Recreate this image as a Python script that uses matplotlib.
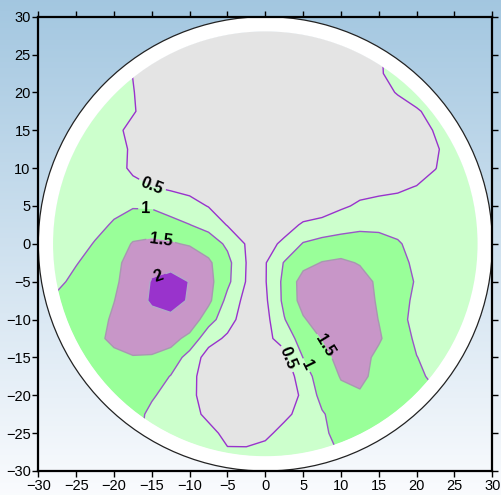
import numpy as np
import matplotlib
matplotlib.use('Agg')
import matplotlib.pyplot as plt
from matplotlib.patches import Circle, Wedge

# grid nodes (2.5 spacing), rows run from top (y=30) to bottom (y=-30)
x_nodes = np.linspace(-30, 30, 25)
y_nodes = np.linspace(30, -30, 25)

field = [
    [0.75, 0.75, 0.75, 0.75, 0.70, 0.45, 0.25, 0.25, 0.25, 0.25, 0.25, 0.25, 0.25, 0.25, 0.25, 0.25, 0.25, 0.25, 0.45, 0.70, 0.75, 0.75, 0.75, 0.75, 0.75],  # 30
    [0.75, 0.75, 0.75, 0.75, 0.70, 0.45, 0.25, 0.25, 0.25, 0.25, 0.25, 0.25, 0.25, 0.25, 0.25, 0.25, 0.25, 0.25, 0.45, 0.70, 0.75, 0.75, 0.75, 0.75, 0.75],  # 27.5
    [0.75, 0.75, 0.75, 0.75, 0.70, 0.45, 0.25, 0.25, 0.25, 0.25, 0.25, 0.25, 0.25, 0.25, 0.25, 0.25, 0.25, 0.25, 0.45, 0.70, 0.75, 0.75, 0.75, 0.75, 0.75],  # 25
    [0.75, 0.75, 0.75, 0.75, 0.74, 0.49, 0.25, 0.25, 0.25, 0.25, 0.25, 0.25, 0.25, 0.25, 0.25, 0.25, 0.25, 0.25, 0.44, 0.69, 0.75, 0.75, 0.75, 0.75, 0.75],  # 22.5
    [0.75, 0.75, 0.75, 0.75, 0.75, 0.52, 0.27, 0.25, 0.25, 0.25, 0.25, 0.25, 0.25, 0.25, 0.25, 0.25, 0.25, 0.25, 0.29, 0.54, 0.75, 0.75, 0.75, 0.75, 0.75],  # 20
    [0.75, 0.75, 0.75, 0.75, 0.75, 0.54, 0.29, 0.25, 0.25, 0.25, 0.25, 0.25, 0.25, 0.25, 0.25, 0.25, 0.25, 0.25, 0.25, 0.25, 0.44, 0.69, 0.75, 0.75, 0.75],  # 17.5
    [0.75, 0.75, 0.75, 0.75, 0.62, 0.37, 0.25, 0.25, 0.25, 0.25, 0.25, 0.25, 0.25, 0.25, 0.25, 0.25, 0.25, 0.25, 0.25, 0.25, 0.29, 0.54, 0.75, 0.75, 0.75],  # 15
    [0.75, 0.75, 0.75, 0.75, 0.68, 0.43, 0.25, 0.25, 0.25, 0.25, 0.25, 0.25, 0.25, 0.25, 0.25, 0.25, 0.25, 0.25, 0.25, 0.25, 0.25, 0.45, 0.70, 0.75, 0.75],  # 12.5
    [0.75, 0.75, 0.75, 0.75, 0.67, 0.42, 0.25, 0.25, 0.25, 0.25, 0.25, 0.25, 0.25, 0.25, 0.25, 0.25, 0.25, 0.25, 0.25, 0.25, 0.25, 0.49, 0.74, 0.75, 0.75],  # 10
    [0.75, 0.75, 0.75, 0.75, 0.73, 0.62, 0.51, 0.43, 0.36, 0.25, 0.25, 0.25, 0.25, 0.25, 0.25, 0.25, 0.25, 0.34, 0.38, 0.42, 0.52, 0.65, 0.75, 0.75, 0.75],  # 7.5
    [0.75, 0.75, 0.75, 0.72, 0.88, 0.955, 0.945, 0.78, 0.66, 0.48, 0.35, 0.25, 0.25, 0.25, 0.25, 0.25, 0.43, 0.57, 0.63, 0.67, 0.72, 0.75, 0.75, 0.75, 0.75],  # 5
    [0.75, 0.75, 0.72, 0.87, 1.05, 1.28, 1.28, 1.17, 1.01, 0.83, 0.475, 0.30, 0.25, 0.34, 0.55, 0.66, 0.79, 0.89, 0.90, 0.83, 0.72, 0.75, 0.75, 0.75, 0.75],  # 2.5
    [0.75, 0.72, 0.825, 1.03, 1.27, 1.53, 1.59, 1.55, 1.45, 1.27, 0.91, 0.46, 0.36, 0.58, 1.035, 1.17, 1.22, 1.21, 1.15, 1.05, 0.83, 0.75, 0.75, 0.75, 0.75],  # 0
    [0.75, 0.78, 0.975, 1.18, 1.41, 1.63, 1.86, 1.88, 1.88, 1.58, 1.14, 0.49, 0.47, 1.03, 1.35, 1.52, 1.58, 1.47, 1.34, 1.15, 0.90, 0.75, 0.75, 0.75, 0.75],  # -2.5
    [0.85, 0.90, 1.12, 1.25, 1.42, 1.72, 2.03, 2.13, 1.99, 1.65, 1.11, 0.47, 0.47, 1.12, 1.70, 1.75, 1.75, 1.67, 1.42, 1.21, 0.96, 0.75, 0.75, 0.75, 0.75],  # -5
    [1.05, 1.10, 1.25, 1.25, 1.49, 1.78, 2.06, 2.15, 1.96, 1.62, 0.85, 0.34, 0.42, 1.11, 1.68, 1.75, 1.75, 1.70, 1.45, 1.20, 0.89, 0.75, 0.75, 0.75, 0.75],  # -7.5
    [1.10, 1.15, 1.25, 1.32, 1.57, 1.75, 1.85, 1.91, 1.85, 1.20, 0.70, 0.25, 0.35, 0.975, 1.45, 1.75, 1.75, 1.74, 1.49, 1.25, 0.77, 0.75, 0.75, 0.75, 0.75],  # -10
    [1.10, 1.15, 1.20, 1.37, 1.62, 1.75, 1.72, 1.68, 1.35, 0.68, 0.42, 0.25, 0.40, 0.65, 1.275, 1.52, 1.72, 1.72, 1.55, 1.25, 0.92, 0.80, 0.75, 0.75, 0.75],  # -12.5
    [1.10, 1.15, 1.20, 1.30, 1.37, 1.47, 1.46, 1.30, 0.80, 0.30, 0.25, 0.25, 0.30, 0.375, 1.01, 1.33, 1.66, 1.65, 1.40, 1.20, 1.01, 0.85, 0.80, 0.75, 0.75],  # -15
    [1.20, 1.20, 1.20, 1.25, 1.25, 1.30, 1.25, 0.98, 0.62, 0.30, 0.25, 0.25, 0.25, 0.25, 0.714, 1.31, 1.52, 1.60, 1.37, 1.20, 1.10, 0.89, 0.85, 0.80, 0.80],  # -17.5
    [1.25, 1.25, 1.25, 1.25, 1.25, 1.25, 1.06, 0.81, 0.59, 0.34, 0.25, 0.25, 0.25, 0.31, 0.56, 1.17, 1.42, 1.45, 1.35, 1.25, 1.20, 1.05, 0.98, 0.95, 0.90],  # -20
    [1.20, 1.20, 1.20, 1.20, 1.20, 1.20, 0.88, 0.75, 0.65, 0.40, 0.25, 0.25, 0.25, 0.40, 0.65, 0.95, 1.25, 1.30, 1.25, 1.20, 1.10, 1.10, 1.10, 1.05, 0.98],  # -22.5
    [1.10, 1.10, 1.10, 1.10, 1.10, 1.05, 0.95, 0.75, 0.75, 0.63, 0.38, 0.32, 0.40, 0.64, 0.75, 0.91, 1.16, 1.25, 1.20, 1.10, 1.10, 1.10, 1.10, 1.10, 1.10],  # -25
    [0.90, 0.90, 0.90, 0.90, 0.90, 0.90, 0.85, 0.80, 0.75, 0.70, 0.55, 0.57, 0.65, 0.70, 0.75, 0.80, 1.05, 1.20, 1.15, 1.10, 1.10, 1.10, 1.10, 1.10, 1.10],  # -27.5
    [0.90, 0.90, 0.90, 0.90, 0.90, 0.90, 0.85, 0.80, 0.75, 0.70, 0.55, 0.57, 0.65, 0.70, 0.75, 0.80, 1.05, 1.20, 1.15, 1.10, 1.10, 1.10, 1.10, 1.10, 1.10],  # -30
]

levels = [0.0, 0.5, 1.0, 1.5, 2.0, 3.0]
fill_colors = ['#e4e4e4', '#ccffcc', '#99ff99', '#c896c8', '#9933cc']
line_levels = [0.5, 1.0, 1.5, 2.0]
line_colors = ['#9933cc', '#9a55c8', '#a898b0', '#b4a8c8']
ticks = [-30, -25, -20, -15, -10, -5, 0, 5, 10, 15, 20, 25, 30]

# spots where the contour values get written
label_spots = [(-15.0, 7.6), (-15.8, 4.4), (-13.8, 0.7), (-14.1, -4.4),
               (2.2, -15.4), (5.5, -16.0), (7.7, -13.6)]

plt.rcParams['font.family'] = ['Liberation Sans', 'DejaVu Sans']

fig = plt.figure(figsize=(5.02, 4.95), dpi=100)

# blue-to-white backdrop behind everything
bg = fig.add_axes([0, 0, 1, 1], zorder=-10)
grad = np.linspace(0, 1, 256)[:, None]
top = np.array([0.64, 0.78, 0.88])
bot = np.array([0.98, 0.985, 0.995])
img = top[None, None, :] * (1 - grad[..., None]) + bot[None, None, :] * grad[..., None]
bg.imshow(img, aspect='auto', extent=[0, 1, 0, 1])
bg.set_axis_off()

ax = fig.add_axes([0.0763, 0.0485, 0.9044, 0.9178])
ax.set_facecolor('none')

X, Y = np.meshgrid(x_nodes, y_nodes)
Z = np.array(field)

disk = Circle((0, 0), 28.1, transform=ax.transData)
cf = ax.contourf(X, Y, Z, levels=levels, colors=fill_colors, antialiased=True)
cf.set_clip_path(disk)
cs = ax.contour(X, Y, Z, levels=line_levels, colors=line_colors, linewidths=1.0)
cs.set_clip_path(disk)
ax.clabel(cs, levels=line_levels, fmt=lambda v: f'{v:g}', manual=label_spots,
          inline=True, inline_spacing=3, colors='black',
          fontsize=12)
for t in cs.labelTexts:
    t.set_fontweight('bold')

# white rim around the disk
ax.add_patch(Wedge((0, 0), 30, 0, 360, width=1.95, facecolor='white',
                   edgecolor='none', zorder=3))
ax.add_patch(Circle((0, 0), 30, fill=False, edgecolor='#222222', lw=0.9, zorder=4))

ax.set_xlim(-30, 30)
ax.set_ylim(-30, 30)
ax.set_xticks(ticks)
ax.set_yticks(ticks)
ax.tick_params(direction='out', length=4, width=1, top=True, right=True,
               labeltop=False, labelright=False, labelsize=10.5, pad=1.5)
for s in ax.spines.values():
    s.set_linewidth(1.6)
    s.set_zorder(5)

fig.savefig('out.png', dpi=100)
